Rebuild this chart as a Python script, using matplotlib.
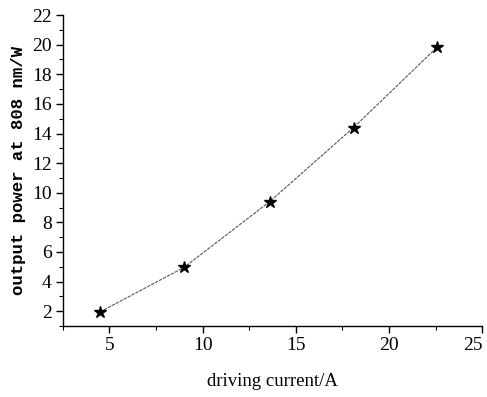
import matplotlib
matplotlib.use("Agg")
import matplotlib.pyplot as plt
from matplotlib.ticker import MultipleLocator

current = [4.5, 9.0, 13.6, 18.1, 22.6]
power = [1.95, 4.95, 9.4, 14.4, 19.85]

fig = plt.figure(figsize=(4.87, 3.97), dpi=100)
ax = fig.add_axes([0.129, 0.179, 0.861, 0.783])

ax.plot(current, power, color="#555555", lw=0.8, ls=(0, (3, 1)), zorder=2)
ax.plot(current, power, ls="none", marker="*", ms=9, color="black", zorder=3)

ax.set_xlim(2.5, 25)
ax.set_ylim(1, 22)
ax.xaxis.set_major_locator(MultipleLocator(5))
ax.xaxis.set_minor_locator(MultipleLocator(2.5))
ax.yaxis.set_major_locator(MultipleLocator(2))
ax.yaxis.set_minor_locator(MultipleLocator(1))

for s in ["top", "right"]:
    ax.spines[s].set_visible(False)
for s in ["left", "bottom"]:
    ax.spines[s].set_linewidth(1.0)

ax.tick_params(which="major", direction="out", length=5, width=1, labelsize=14, pad=3)
ax.tick_params(which="minor", direction="out", length=3, width=0.8)

fig.canvas.draw()
for lab in ax.get_xticklabels() + ax.get_yticklabels():
    lab.set_fontfamily("Liberation Serif")
for loc, tick in zip(ax.get_xticks(), ax.xaxis.get_major_ticks()):
    if abs(loc - 25) < 1e-6:
        tick.label1.set_horizontalalignment("right")
        tick.label1.set_x(25.3)

ax.set_xlabel("driving current/A", fontfamily="Liberation Serif", fontsize=13.5, labelpad=14)
ax.set_ylabel("output power at 808 nm/W", fontfamily="Liberation Mono", fontsize=12.5,
              fontweight="bold", labelpad=4)

fig.savefig("out.png", dpi=100)
